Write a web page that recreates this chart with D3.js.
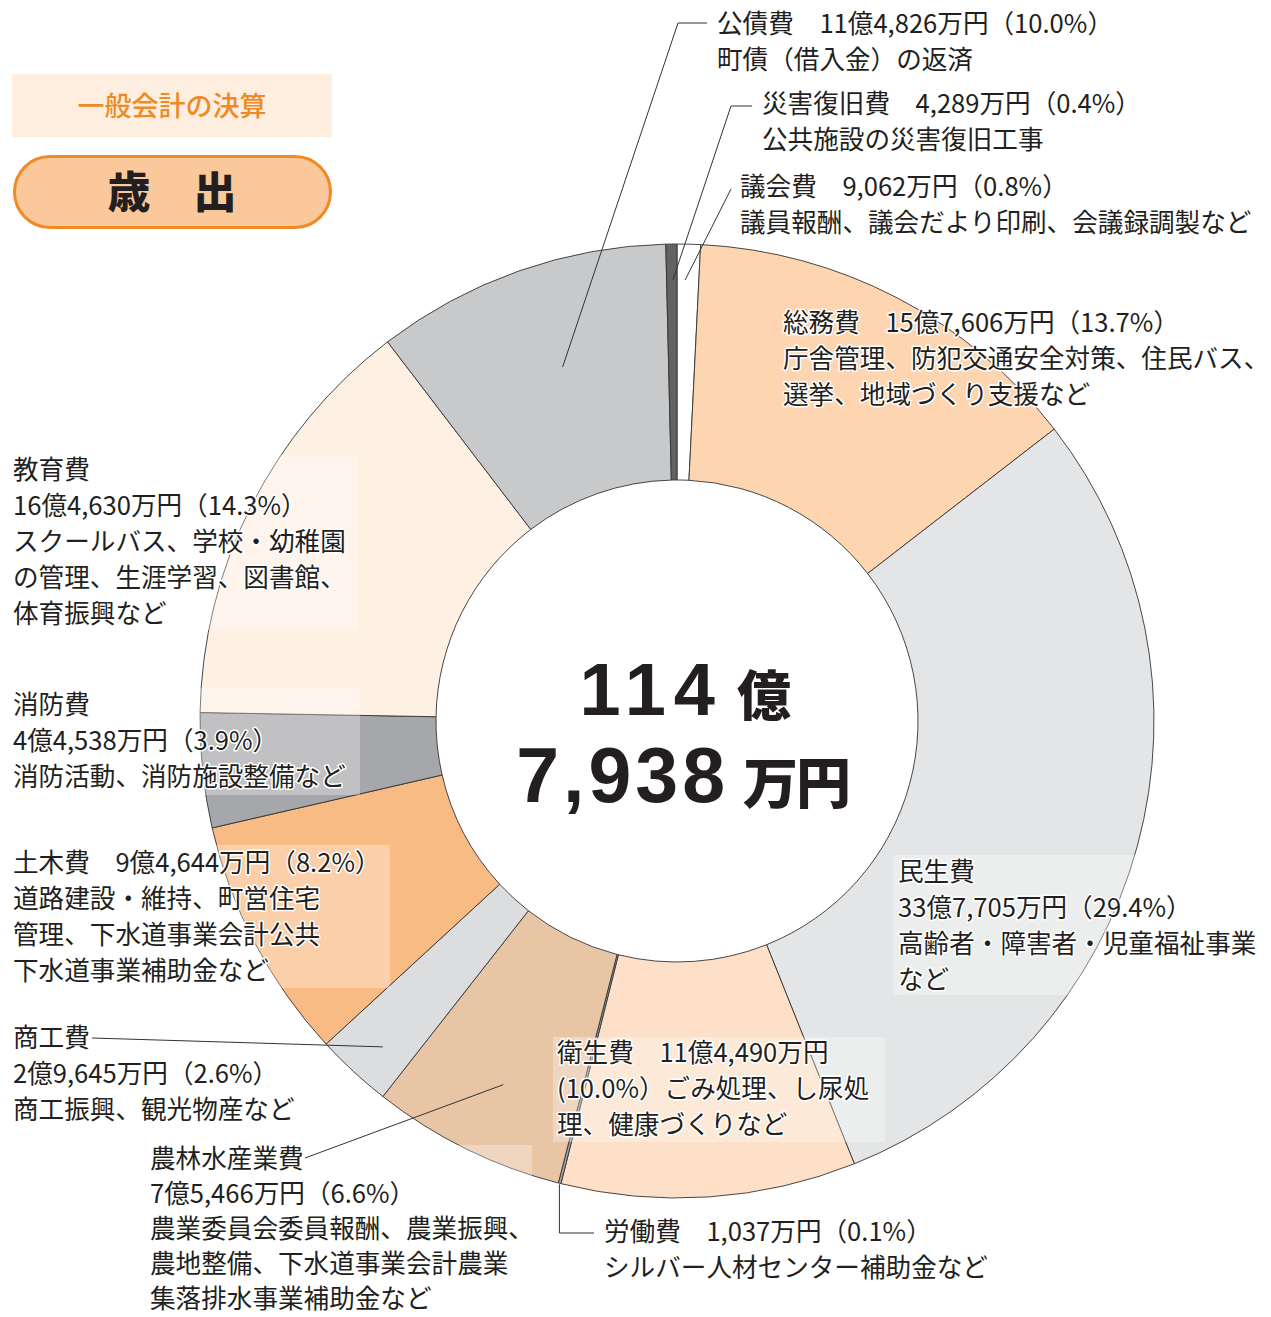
<!DOCTYPE html>
<html><head><meta charset="utf-8">
<script src="https://cdn.jsdelivr.net/npm/d3@7"></script>
<style>
html,body{margin:0;padding:0;background:#fff;}
svg{display:block;}
</style></head>
<body>
<svg id="chart" width="1271" height="1317"></svg>
<script>
// ---- data (clockwise from 12 o'clock) ----
const categories = ["議会費","総務費","民生費","衛生費","労働費","農林水産業費","商工費","土木費","消防費","教育費","公債費","災害復旧費"];
const amounts = [9062,157606,337705,114490,1037,75466,29645,94644,44538,164630,114826,4289]; // 万円
const descriptions = [
  ["議員報酬、議会だより印刷、会議録調製など"],
  ["庁舎管理、防犯交通安全対策、住民バス、","選挙、地域づくり支援など"],
  ["高齢者・障害者・児童福祉事業","など"],
  ["ごみ処理、し尿処","理、健康づくりなど"],
  ["シルバー人材センター補助金など"],
  ["農業委員会委員報酬、農業振興、","農地整備、下水道事業会計農業","集落排水事業補助金など"],
  ["商工振興、観光物産など"],
  ["道路建設・維持、町営住宅","管理、下水道事業会計公共","下水道事業補助金など"],
  ["消防活動、消防施設整備など"],
  ["スクールバス、学校・幼稚園","の管理、生涯学習、図書館、","体育振興など"],
  ["町債（借入金）の返済"],
  ["公共施設の災害復旧工事"]
];
const titleText = "一般会計の決算";
const headText = "歳　出";

// ---- styles / layout ----
const colors = ["#ffffff","#fdd6b1","#e4e5e6","#fde0c7","#a2a4a7","#e8c5a5","#dcdddf","#f9bb84","#a6a7aa","#fef0e3","#c8c9cb","#626262"];
const cx = 677, cy = 721, rIn = 241, rOut = 477;
const FS = 25.6, LH = 36;
const total = d3.sum(amounts);
const fmt = d3.format(",");
const pctFmt = d3.format(".1f");
function amtText(a){ const oku = Math.floor(a/10000), man = a%10000; return (oku>0? oku+"億":"") + fmt(man) + "万円"; }
function pctText(a){ return pctFmt(a/total*100) + "%"; }

// label layout: style = inline | stacked | split
const labelLayout = [
  {x:740, y:187, style:"inline"},
  {x:783, y:323, style:"inline"},
  {x:898, y:872, style:"stacked"},
  {x:557, y:1053, style:"split"},
  {x:604, y:1232, style:"inline"},
  {x:150, y:1159, style:"stacked", lh:35},
  {x:13, y:1038, style:"stacked"},
  {x:13, y:863, style:"inline"},
  {x:13, y:705, style:"stacked"},
  {x:13, y:470, style:"stacked"},
  {x:717, y:24, style:"inline"},
  {x:762, y:104, style:"inline"}
];
const boxes = [
  {x:5, y:455, w:353, h:175},
  {x:5, y:688, w:355, h:107},
  {x:5, y:845, w:385, h:143},
  {x:893, y:855, w:270, h:140},
  {x:553, y:1037, w:332, h:105},
  {x:145, y:1145, w:387, h:170}
];

const svg = d3.select("#chart");

// header
svg.append("rect").attr("x",12).attr("y",74).attr("width",320).attr("height",63).attr("fill","#fdeee0");
svg.append("text").attr("x",172).attr("y",116).attr("text-anchor","middle")
  .attr("font-family","'Noto Sans CJK JP'").attr("font-size",27).attr("font-weight",500)
  .attr("fill","#f08a24").text(titleText);
svg.append("rect").attr("x",14.5).attr("y",156.5).attr("width",316).attr("height",71).attr("rx",35.5)
  .attr("fill","#fac89b").attr("stroke","#f08a24").attr("stroke-width",3);
svg.append("text").attr("x",172).attr("y",208).attr("text-anchor","middle")
  .attr("font-family","'Noto Sans CJK JP'").attr("font-size",43).attr("font-weight",900)
  .attr("fill","#231f20").text(headText);

// donut
const pie = d3.pie().sort(null).value(d=>d).startAngle(0).endAngle(2*Math.PI);
const arcs = pie(amounts);
const arc = d3.arc().innerRadius(rIn).outerRadius(rOut);
const g = svg.append("g").attr("transform",`translate(${cx},${cy})`);
g.selectAll("path").data(arcs).join("path")
  .attr("d",arc).attr("fill",(d,i)=>colors[i])
  .attr("stroke","#333").attr("stroke-width",0.9).attr("stroke-linejoin","round");

// translucent label boxes
svg.append("g").selectAll("rect").data(boxes).join("rect")
  .attr("x",d=>d.x).attr("y",d=>d.y).attr("width",d=>d.w).attr("height",d=>d.h)
  .attr("fill","#fff").attr("fill-opacity",0.3);

// leader lines
function polar(i, frac, r){
  const a = arcs[i].startAngle + (arcs[i].endAngle - arcs[i].startAngle)*frac;
  return [cx + r*Math.sin(a), cy - r*Math.cos(a)];
}
const idx = n => categories.indexOf(n);
const leaders = [];
leaders.push([polar(idx("公債費"),0.54,372),[678,23],[707,23]]);
leaders.push([polar(idx("災害復旧費"),0.6,441),[731,106],[752,106]]);
leaders.push([polar(idx("議会費"),0.37,441),[731,189]]);
leaders.push([[92,1038],polar(idx("商工費"),0.43,439)]);
leaders.push([[305,1158],polar(idx("農林水産業費"),0.47,403)]);
const lp = polar(idx("労働費"),0.5,rOut+1);
leaders.push([lp,[lp[0],1233],[594,1233]]);
svg.append("g").selectAll("path").data(leaders).join("path")
  .attr("d",d=>d3.line()(d)).attr("fill","none").attr("stroke","#333").attr("stroke-width",1);

// labels
const lg = svg.append("g").attr("font-family","'Noto Sans CJK JP'").attr("font-size",FS).attr("fill","#231f20");
categories.forEach((name,i)=>{
  const L = labelLayout[i];
  const a = amounts[i];
  let lines;
  if (L.style==="inline") lines = [name+"　"+amtText(a)+"（"+pctText(a)+"）", ...descriptions[i]];
  else if (L.style==="stacked") lines = [name, amtText(a)+"（"+pctText(a)+"）", ...descriptions[i]];
  else lines = [name+"　"+amtText(a), "("+pctText(a)+"）"+descriptions[i][0], ...descriptions[i].slice(1)];
  const lh = L.lh || LH;
  const t = lg.append("text");
  lines.forEach((s,k)=>{
    t.append("tspan").attr("x",L.x).attr("y",L.y + 9 + k*lh).text(s);
  });
  // white halo
  const halo = t.node().cloneNode(true);
  t.node().parentNode.insertBefore(halo, t.node());
  d3.select(halo).attr("stroke","#fff").attr("stroke-width",3).attr("stroke-linejoin","round").attr("fill","#fff");
});

// center total
const oku = Math.floor(total/10000), man = total%10000;
const ct = svg.append("g").attr("fill","#231f20");
ct.append("text").attr("x",cx+46).attr("y",715).attr("text-anchor","end")
  .attr("font-family","'Liberation Sans', Arial, sans-serif").attr("font-weight",700)
  .attr("font-size",74).attr("letter-spacing",8).text(oku);
ct.append("text").attr("x",cx+60).attr("y",716)
  .attr("font-family","'Noto Sans CJK JP'").attr("font-weight",900).attr("font-size",54).text("億");
ct.append("text").attr("x",cx+52).attr("y",802).attr("text-anchor","end")
  .attr("font-family","'Liberation Sans', Arial, sans-serif").attr("font-weight",700)
  .attr("font-size",77).attr("letter-spacing",4).text(fmt(man));
ct.append("text").attr("x",cx+66).attr("y",803)
  .attr("font-family","'Noto Sans CJK JP'").attr("font-weight",900).attr("font-size",55).attr("letter-spacing",-2).text("万円");
</script>
</body></html>
